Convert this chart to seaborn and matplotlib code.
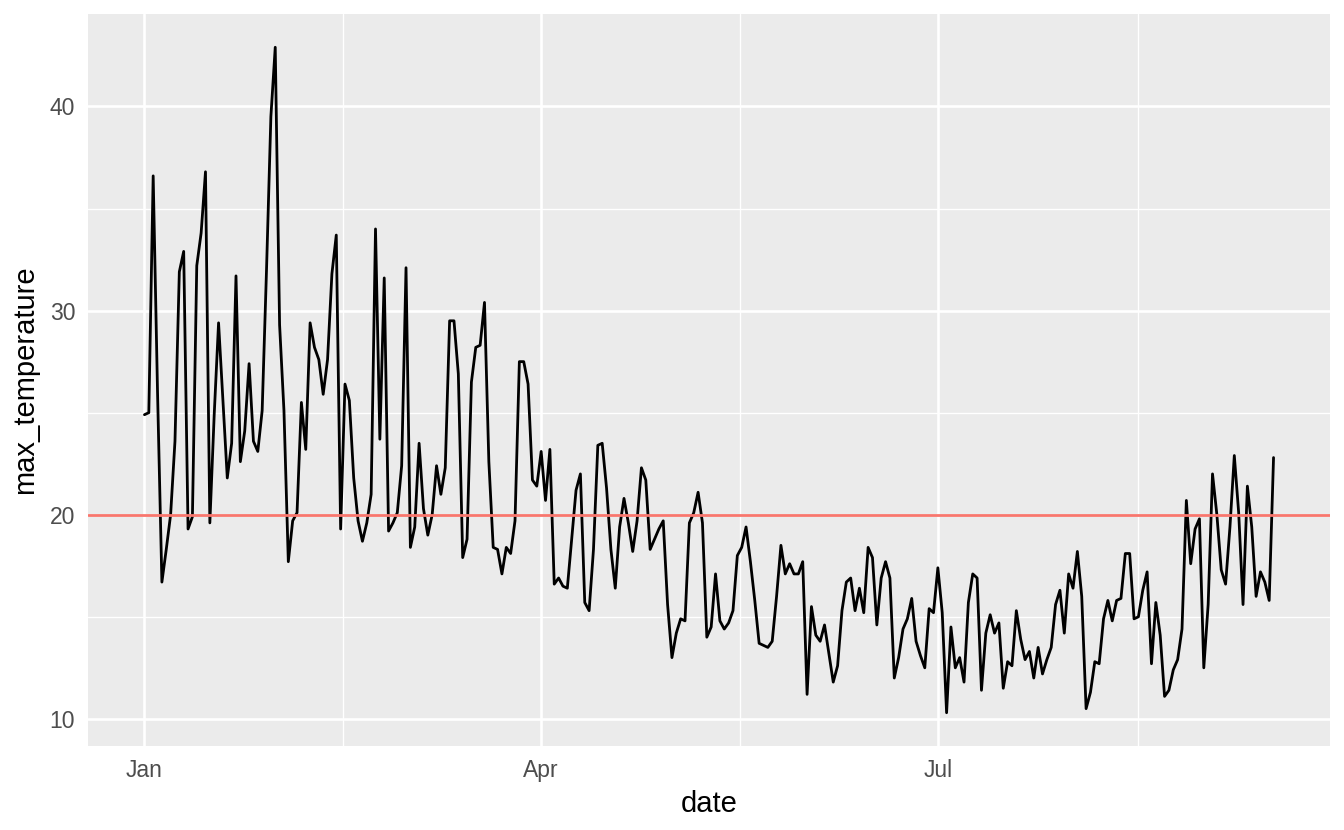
import pandas as pd
import numpy as np
import matplotlib
matplotlib.use("Agg")
import matplotlib.pyplot as plt
import matplotlib.dates as mdates
from matplotlib.ticker import MultipleLocator
import seaborn as sns

# ------------------------------------------------------------------
# data: daily maximum temperature, starting 1 Jan 2020
# ------------------------------------------------------------------
START_DATE = "2020-01-01"
THRESHOLD = 20

max_temperature = [
    24.9, 25.0, 36.6, 26.0, 16.7, 18.3, 20.0, 23.6, 31.9, 32.9,
    19.3, 19.9, 32.2, 33.8, 36.8, 19.6, 24.9, 29.4, 25.6, 21.8,
    23.5, 31.7, 22.6, 24.1, 27.4, 23.6, 23.1, 25.1, 32.0, 39.5,
    42.9, 29.3, 25.1, 17.7, 19.7, 20.1, 25.5, 23.2, 29.4, 28.2,
    27.6, 25.9, 27.6, 31.8, 33.7, 19.3, 26.4, 25.6, 21.8, 19.7,
    18.7, 19.6, 21.0, 34.0, 23.7, 31.6, 19.2, 19.6, 20.1, 22.4,
    32.1, 18.4, 19.4, 23.5, 20.3, 19.0, 20.0, 22.4, 21.0, 22.3,
    29.5, 29.5, 26.9, 17.9, 18.8, 26.5, 28.2, 28.3, 30.4, 22.6,
    18.4, 18.3, 17.1, 18.4, 18.1, 19.7, 27.5, 27.5, 26.4, 21.7,
    21.4, 23.1, 20.7, 23.2, 16.6, 16.9, 16.5, 16.4, 18.8, 21.2,
    22.0, 15.7, 15.3, 18.3, 23.4, 23.5, 21.3, 18.3, 16.4, 19.4,
    20.8, 19.6, 18.2, 19.7, 22.3, 21.7, 18.3, 18.8, 19.3, 19.7,
    15.6, 13.0, 14.2, 14.9, 14.8, 19.6, 20.1, 21.1, 19.6, 14.0,
    14.5, 17.1, 14.8, 14.4, 14.7, 15.3, 18.0, 18.4, 19.4, 17.7,
    15.8, 13.7, 13.6, 13.5, 13.8, 16.0, 18.5, 17.1, 17.6, 17.1,
    17.1, 17.7, 11.2, 15.5, 14.1, 13.8, 14.6, 13.2, 11.8, 12.6,
    15.3, 16.7, 16.9, 15.3, 16.4, 15.2, 18.4, 17.9, 14.6, 16.9,
    17.7, 16.9, 12.0, 13.0, 14.4, 14.9, 15.9, 13.8, 13.1, 12.5,
    15.4, 15.2, 17.4, 15.2, 10.3, 14.5, 12.5, 13.0, 11.8, 15.7,
    17.1, 16.9, 11.4, 14.2, 15.1, 14.2, 14.7, 11.5, 12.8, 12.6,
    15.3, 13.9, 12.9, 13.3, 12.0, 13.5, 12.2, 12.9, 13.5, 15.6,
    16.3, 14.2, 17.1, 16.4, 18.2, 16.0, 10.5, 11.3, 12.8, 12.7,
    14.9, 15.8, 14.8, 15.8, 15.9, 18.1, 18.1, 14.9, 15.0, 16.3,
    17.2, 12.7, 15.7, 14.1, 11.1, 11.4, 12.4, 12.9, 14.4, 20.7,
    17.6, 19.3, 19.8, 12.5, 15.6, 22.0, 20.0, 17.3, 16.6, 19.4,
    22.9, 20.1, 15.6, 21.4, 19.4, 16.0, 17.2, 16.7, 15.8, 22.8,
]

MAJOR_DATES = ["2020-01-01 00:00", "2020-04-01 00:00", "2020-07-01 00:00"]
MAJOR_LABELS = ["Jan", "Apr", "Jul"]
MINOR_DATES = ["2020-02-15 12:00", "2020-05-16 12:00", "2020-08-16 00:00"]

df = pd.DataFrame({
    "date": pd.date_range(START_DATE, periods=len(max_temperature), freq="D"),
    "max_temperature": max_temperature,
})

# ------------------------------------------------------------------
# ggplot2-like look
# ------------------------------------------------------------------
sns.set_theme(style="darkgrid")
plt.rcParams.update({
    "font.family": ["Liberation Sans", "DejaVu Sans"],
    "axes.facecolor": "#EBEBEB",
    "figure.facecolor": "white",
    "grid.color": "white",
    "axes.edgecolor": "none",
})

fig = plt.figure(figsize=(13.44, 8.30), dpi=100)
ax = fig.add_axes([88 / 1344, 1 - 746 / 830, (1330 - 88) / 1344, (746 - 14) / 830])

sns.lineplot(data=df, x="date", y="max_temperature", color="black",
             linewidth=2.0, ax=ax, zorder=3)
ax.axhline(THRESHOLD, color="#F8766D", linewidth=2.0, zorder=4)

# limits with ggplot's 5% expansion
xnum = mdates.date2num(df["date"])
xr = xnum.max() - xnum.min()
ax.set_xlim(xnum.min() - 0.05 * xr, xnum.max() + 0.05 * xr)
yv = np.array(max_temperature)
yr = yv.max() - yv.min()
ax.set_ylim(yv.min() - 0.05 * yr, yv.max() + 0.05 * yr)

# ticks and grid
ax.set_xticks(mdates.date2num(pd.to_datetime(MAJOR_DATES)))
ax.set_xticklabels(MAJOR_LABELS)
ax.set_xticks(mdates.date2num(pd.to_datetime(MINOR_DATES)), minor=True)
ax.set_yticks([10, 20, 30, 40])
ax.yaxis.set_minor_locator(MultipleLocator(5))

ax.grid(which="major", color="white", linewidth=1.9)
ax.grid(which="minor", color="white", linewidth=0.95)
ax.set_axisbelow(True)

ax.tick_params(which="major", length=5.2, width=1.4, color="#333333",
               labelcolor="#4D4D4D", labelsize=16.5, pad=4)
ax.tick_params(which="minor", length=0)
for s in ax.spines.values():
    s.set_visible(False)

ax.set_xlabel("date", fontsize=21, color="black", labelpad=6)
ax.set_ylabel("max_temperature", fontsize=21, color="black", labelpad=8)

fig.savefig("out.png", dpi=100, facecolor="white")
